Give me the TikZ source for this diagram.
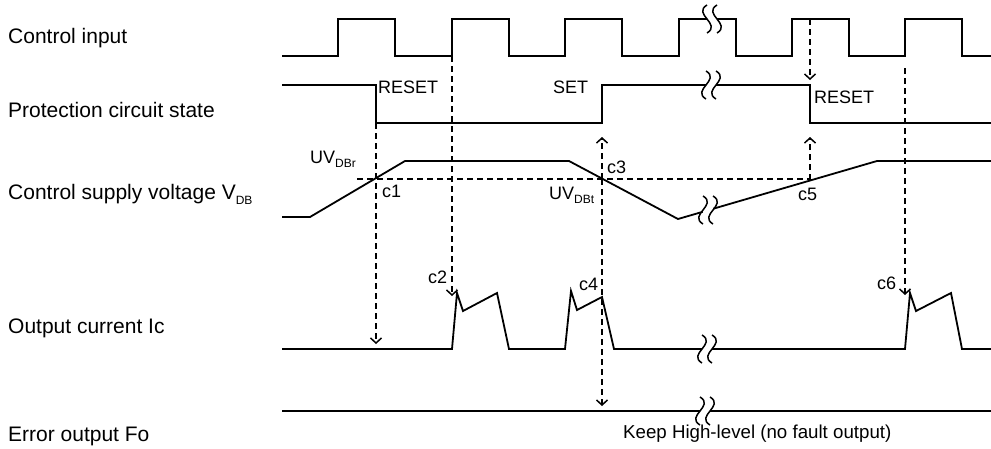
\documentclass[tikz,border=0pt]{standalone}
\usepackage{fontspec}
\setmainfont{Liberation Sans}
\usepackage{tikz}
\usetikzlibrary{arrows.meta}
\tikzstyle{wave} = [line width=1.8pt, line join=miter]
\tikzstyle{guide} = [line width=1.5pt, dash pattern=on 6pt off 4pt]
\tikzstyle{arrow} = [guide, -{Straight Barb[length=5pt,width=11pt,line width=1.5pt]}]
\tikzstyle{sig} = [anchor=base west, inner sep=0pt, font=\fontsize{21}{25}\selectfont]
\tikzstyle{tag} = [anchor=base west, inner sep=0pt, font=\fontsize{18}{21}\selectfont]
\newcommand{\lowidx}[1]{\raisebox{-0.25em}{\fontsize{12}{12}\selectfont #1}}
% break mark on a waveform: x, y, orientation
\newcommand{\wavebreak}[3]{%
  \fill[white] (#1-5,#2-6) rectangle (#1+5,#2+6);
  \foreach \dx in {-5,5}
    \draw[wave, line width=1.5pt] (#1+\dx,#2-14) .. controls (#1+\dx+15*#3,#2-5) and (#1+\dx-15*#3,#2+5) .. (#1+\dx,#2+14);
}

\begin{document}
\begin{tikzpicture}[x=1pt, y=-1pt]
\useasboundingbox (0,0) rectangle (991,448);

% signal names
\node (lin) [sig] at (8,43) {Control input};
\node (lprot) [sig] at (8,117) {Protection circuit state};
\node (lvdb) [sig] at (8,199) {Control supply voltage V\lowidx{DB}};
\node (lic) [sig] at (8,333) {Output current Ic};
\node (lfo) [sig] at (8,441) {Error output Fo};

% waveforms
\draw [wave] (282,56) foreach \x in {338,452,565,679,792,905} { -- (\x,56) -- (\x,19) -- (\x+57,19) -- (\x+57,56) } -- (991,56);
\draw [wave] (282,85) -| (376,123) -| (602,85) -| (810,123) -- (991,123);
\draw [wave] (282,217) -- (310,217) -- (405,161) -- (569,161) -- (678,219) -- (877,161) -- (991,161);
\draw [wave] (282,349) -- (452,349) -- (457,293) -- (463,311) -- (497,293) -- (509,349)
  -- (565,349) -- (571,291) -- (577,310) -- (602,297) -- (614,349)
  -- (905,349) -- (910,293) -- (916,311) -- (951,293) -- (962,349) -- (991,349);
\draw [wave] (282,411) -- (991,411);

\wavebreak{712}{19}{-1}
\wavebreak{711}{85}{1}
\wavebreak{708}{210}{1}
\wavebreak{707}{349}{1}
\wavebreak{705}{411}{1}

% threshold
\draw [guide] (357,179) -- (810,179);

% event points
\coordinate (p1) at (376,123);
\coordinate (t1) at (376,344);
\coordinate (in2) at (452,56);
\coordinate (t2) at (452,296);
\coordinate (x3) at (602,179);
\coordinate (p3) at (602,137);
\coordinate (f4) at (602,406);
\coordinate (in5) at (810,19);
\coordinate (p5) at (810,80);
\coordinate (x5) at (810,180);
\coordinate (q5) at (810,137);
\coordinate (p6) at (905,68);
\coordinate (t6) at (905,295);

\draw [arrow] (p1) -- (t1);
\draw [arrow] (in2) -- (t2);
\draw [arrow] (x3) -- (p3);
\draw [arrow] (x3) -- (f4);
\draw [arrow] (in5) -- (p5);
\draw [arrow] (x5) -- (q5);
\draw [arrow] (p6) -- (t6);

% labels
\node (reset1) [tag] at (378,93) {RESET};
\node (set) [tag] at (553,93) {SET};
\node (reset2) [tag] at (814,103) {RESET};
\node (uvr) [tag] at (310,163) {UV\lowidx{DBr}};
\node (uvt) [tag] at (549,199) {UV\lowidx{DBt}};
\node (lc1) [tag] at (382,197) {c1};
\node (lc2) [tag] at (428,283) {c2};
\node (lc3) [tag] at (607,173) {c3};
\node (lc4) [tag] at (579,290) {c4};
\node (lc5) [tag] at (798,200) {c5};
\node (lc6) [tag] at (877,289) {c6};
\node (keep) [tag, font=\fontsize{18.7}{22}\selectfont] at (623,438) {Keep High-level (no fault output)};
\end{tikzpicture}
\end{document}
